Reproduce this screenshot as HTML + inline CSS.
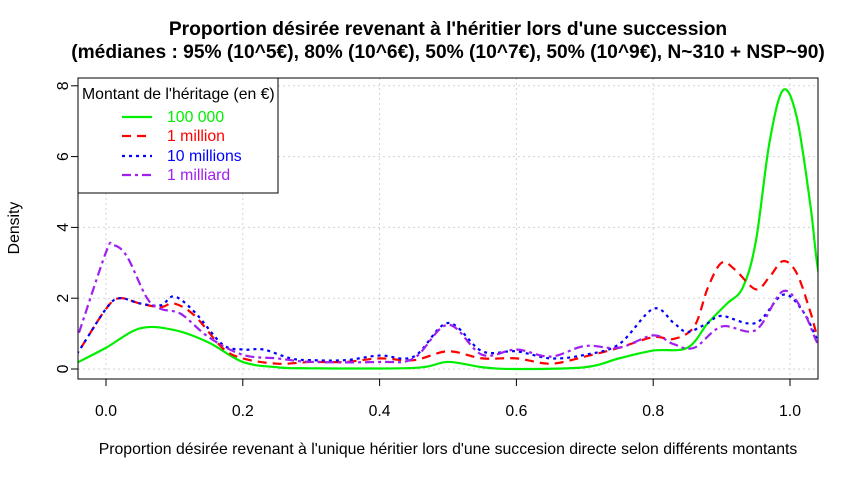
<!DOCTYPE html>
<html><head><meta charset="utf-8"><style>
body{margin:0;background:#fff;}
svg{display:block;font-family:"Liberation Sans",sans-serif;}
</style></head><body>
<svg id="s" width="858" height="478" viewBox="0 0 858 478">
<defs><clipPath id="c"><rect x="78" y="78" width="740" height="301"/></clipPath></defs>
<text x="448" y="35" font-size="19.2" font-weight="bold" text-anchor="middle">Proportion désirée revenant à l'héritier lors d'une succession</text>
<text x="448" y="58" font-size="19.2" font-weight="bold" text-anchor="middle">(médianes : 95% (10^5€), 80% (10^6€), 50% (10^7€), 50% (10^9€), N~310 + NSP~90)</text>
<g id="grid" stroke="#d3d3d3" stroke-dasharray="2,3" stroke-width="1"></g>
<g id="curves" clip-path="url(#c)" fill="none" stroke-width="2.2"></g>
<rect x="78" y="78" width="740" height="301" fill="none" stroke="#000" stroke-width="1"/>
<g id="ax" font-size="15.8"></g>
<text x="448" y="454" font-size="15.8" text-anchor="middle">Proportion désirée revenant à l'unique héritier lors d'une succesion directe selon différents montants</text>
<text transform="translate(19,228) rotate(-90)" font-size="15.8" text-anchor="middle">Density</text>
<rect x="78" y="78" width="200" height="115" fill="#fff" stroke="#000" stroke-width="1"/>
<text x="82" y="99" font-size="15.8">Montant de l'héritage (en €)</text>
<g stroke-width="2.2">
<line x1="122" y1="117" x2="152" y2="117" stroke="#00ee00"/>
<line x1="122" y1="136" x2="152" y2="136" stroke="#ff0000" stroke-dasharray="9,6"/>
<line x1="122" y1="156" x2="152" y2="156" stroke="#0000ff" stroke-dasharray="3,4"/>
<line x1="122" y1="175" x2="152" y2="175" stroke="#a020f0" stroke-dasharray="9,4,3,4"/>
</g>
<g font-size="15.8">
<text x="167" y="122" fill="#00ee00">100 000</text>
<text x="167" y="141" fill="#ff0000">1 million</text>
<text x="167" y="161" fill="#0000ff">10 millions</text>
<text x="167" y="180" fill="#a020f0">1 milliard</text>
</g>
</svg>
<script>
const X=v=>106+684*v, Y=v=>369-35.4*v;
const ns="http://www.w3.org/2000/svg";
function el(p,t,a,txt){const e=document.createElementNS(ns,t);for(const k in a)e.setAttribute(k,a[k]);if(txt!==undefined)e.textContent=txt;document.getElementById(p).appendChild(e);return e;}
for(let i=0;i<=5;i++){const x=X(i*0.2);el("grid","line",{x1:x,y1:78,x2:x,y2:379});
 el("ax","line",{x1:x,y1:379,x2:x,y2:386,stroke:"#000"});
 el("ax","text",{x:x,y:416,"text-anchor":"middle"},(i*0.2).toFixed(1));}
for(let i=0;i<=8;i+=2){const y=Y(i);el("grid","line",{x1:78,y1:y,x2:818,y2:y});
 el("ax","line",{x1:71,y1:y,x2:78,y2:y,stroke:"#000"});
 el("ax","text",{transform:`translate(68,${y}) rotate(-90)`,"text-anchor":"middle"},""+i);}
const S={
g:[[-0.05,0.1],[-0.04,0.2],[0,0.6],[0.05,1.15],[0.1,1.1],[0.15,0.75],[0.2,0.2],[0.25,0.05],[0.3,0.02],[0.45,0.03],[0.5,0.2],[0.55,0.05],[0.6,0.0],[0.7,0.05],[0.75,0.3],[0.8,0.52],[0.85,0.6],[0.88,1.3],[0.908,1.85],[0.931,2.3],[0.95,3.6],[0.97,6.4],[0.99,7.88],[1.01,7.1],[1.03,4.6],[1.041,2.8],[1.06,1]],
r:[[-0.05,0.3],[-0.04,0.5],[0,1.7],[0.02,2.0],[0.05,1.85],[0.08,1.75],[0.1,1.85],[0.13,1.5],[0.17,0.6],[0.2,0.3],[0.25,0.15],[0.3,0.2],[0.35,0.2],[0.4,0.3],[0.45,0.25],[0.5,0.5],[0.55,0.3],[0.6,0.3],[0.65,0.15],[0.7,0.35],[0.75,0.6],[0.8,0.9],[0.83,0.85],[0.86,1.2],[0.88,2.3],[0.9,3.0],[0.92,2.8],[0.95,2.25],[0.97,2.6],[0.99,3.05],[1.01,2.7],[1.03,1.6],[1.041,0.9],[1.06,0.4]],
b:[[-0.05,0.3],[-0.04,0.5],[0,1.7],[0.02,2.0],[0.05,1.85],[0.08,1.8],[0.1,2.05],[0.13,1.6],[0.17,0.7],[0.2,0.55],[0.23,0.55],[0.27,0.3],[0.3,0.25],[0.35,0.25],[0.4,0.38],[0.45,0.35],[0.5,1.3],[0.55,0.5],[0.6,0.5],[0.65,0.3],[0.7,0.4],[0.75,0.7],[0.8,1.7],[0.83,1.3],[0.85,1.05],[0.88,1.3],[0.9,1.5],[0.95,1.3],[0.99,2.1],[1.02,1.6],[1.041,0.8],[1.06,0.4]],
p:[[-0.05,0.5],[-0.04,1.0],[0,3.3],[0.01,3.5],[0.03,3.2],[0.06,2.0],[0.08,1.7],[0.11,1.55],[0.15,0.9],[0.2,0.4],[0.25,0.3],[0.3,0.2],[0.4,0.2],[0.45,0.3],[0.5,1.25],[0.55,0.4],[0.6,0.55],[0.65,0.35],[0.7,0.65],[0.75,0.6],[0.8,0.95],[0.83,0.7],[0.86,0.6],[0.9,1.2],[0.95,1.1],[0.99,2.2],[1.02,1.6],[1.041,0.7],[1.06,0.3]]};
function path(pts){const P=pts.map(p=>[X(p[0]),Y(p[1])]);let d=`M${P[0][0]},${P[0][1]}`;
for(let i=0;i<P.length-1;i++){const p0=P[i-1]||P[i],p1=P[i],p2=P[i+1],p3=P[i+2]||p2;
d+=`C${p1[0]+(p2[0]-p0[0])/6},${p1[1]+(p2[1]-p0[1])/6} ${p2[0]-(p3[0]-p1[0])/6},${p2[1]-(p3[1]-p1[1])/6} ${p2[0]},${p2[1]}`;}return d;}
el("curves","path",{d:path(S.g),stroke:"#00ee00"});
el("curves","path",{d:path(S.r),stroke:"#ff0000","stroke-dasharray":"9,6"});
el("curves","path",{d:path(S.b),stroke:"#0000ff","stroke-dasharray":"3,4"});
el("curves","path",{d:path(S.p),stroke:"#a020f0","stroke-dasharray":"9,4,3,4"});
</script>
</body></html>
